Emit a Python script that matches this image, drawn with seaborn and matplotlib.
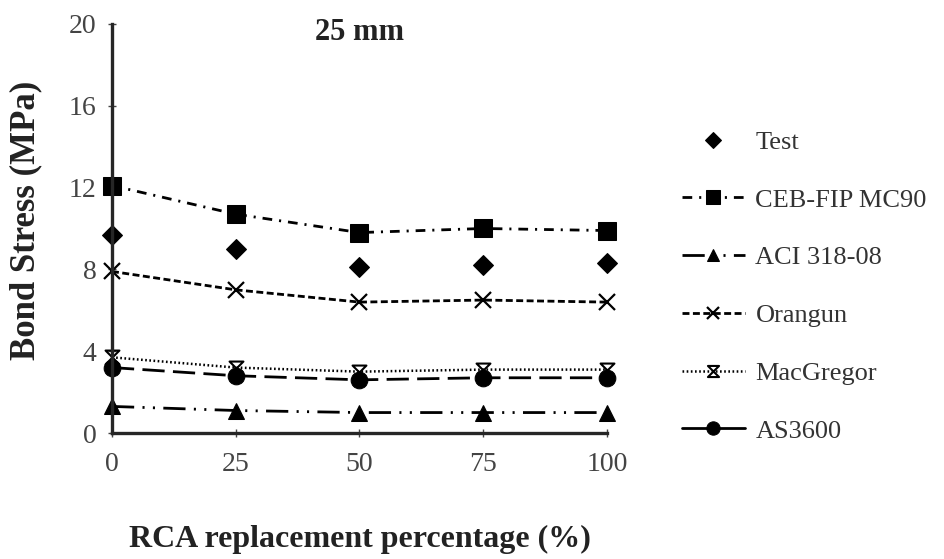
import numpy as np
import pandas as pd
import seaborn as sns
import matplotlib.pyplot as plt
from matplotlib.path import Path

# data
rca = [0, 25, 50, 75, 100]
test = [9.7, 9.0, 8.1, 8.2, 8.3]
ceb_fip = [12.1, 10.7, 9.8, 10.0, 9.9]
aci = [1.3, 1.1, 1.0, 1.0, 1.0]
orangun = [7.9, 7.0, 6.4, 6.5, 6.4]
macgregor = [3.7, 3.2, 3.0, 3.1, 3.1]
as3600 = [3.2, 2.8, 2.6, 2.7, 2.7]

sns.set_style("ticks")
plt.rcParams['font.family'] = ['Liberation Serif', 'DejaVu Serif']
plt.rcParams['lines.scale_dashes'] = False

hourglass = Path([(-1, 1), (1, 1), (-1, -1), (1, -1), (-1, 1)],
                 [Path.MOVETO, Path.LINETO, Path.LINETO, Path.LINETO, Path.CLOSEPOLY])

series = [
    ("Test", test, dict(marker="D", markersize=10.5, linestyle="none")),
    ("CEB-FIP MC90", ceb_fip, dict(marker="s", markersize=12.5, linestyle=(0, (7, 5, 1.5, 5)))),
    ("ACI 318-08", aci, dict(marker="^", markersize=11.5, linestyle=(0, (16, 6, 1.5, 6, 1.5, 6)))),
    ("Orangun", orangun, dict(marker="x", markersize=11, markeredgewidth=1.6, linestyle=(0, (5, 2.5)))),
    ("MacGregor", macgregor, dict(marker=hourglass, markersize=10, markeredgewidth=1.5,
                                  markerfacecolor="none", linestyle=(0, (1.2, 1.8)), linewidth=1.8)),
    ("AS3600", as3600, dict(marker="o", markersize=12, linestyle=(0, (16, 6)))),
]

fig = plt.figure(figsize=(9.44, 5.59), dpi=100)
ax = fig.add_axes([0.1186, 0.2254, 0.5244, 0.7317])

for name, vals, kw in series:
    df = pd.DataFrame({"rca": rca, "stress": vals})
    style = dict(color="black", linewidth=2, markeredgecolor="black", clip_on=False)
    style.update(kw)
    sns.lineplot(data=df, x="rca", y="stress", ax=ax, label=name, **style)

ax.set_xlim(0, 100)
ax.set_ylim(0, 20)
ax.set_xticks(rca)
ax.set_yticks([0, 4, 8, 12, 16, 20])
sns.despine(ax=ax)
for s in ["left", "bottom"]:
    ax.spines[s].set_linewidth(2.4)
ax.tick_params(direction="inout", length=6, width=1, labelsize=20, pad=8, colors="#444")
ax.tick_params(axis="x", pad=11)

ax.set_xlabel("RCA replacement percentage (%)", fontsize=23, fontweight="bold", color="#222")
ax.set_ylabel("Bond Stress (MPa)", fontsize=25, fontweight="bold", color="#222")
ax.xaxis.set_label_coords(0.5, -0.225)
ax.yaxis.set_label_coords(-0.141, 0.52)

ax.text(50, 19.6, "25 mm", ha="center", va="center", fontsize=22, fontweight="bold", color="#222")

leg = ax.legend(loc="center left", bbox_to_anchor=(0.722, 0.4875), bbox_transform=fig.transFigure,
                frameon=False, fontsize=19, handlelength=2.4, handletextpad=0.4,
                labelspacing=1.3, borderpad=0, borderaxespad=0, markerscale=0.8)
for t in leg.get_texts():
    t.set_color("#333")
# the AS3600 key is drawn solid in the reference
leg.get_lines()[-1].set_linestyle("-")

fig.savefig("out.png", dpi=100)
